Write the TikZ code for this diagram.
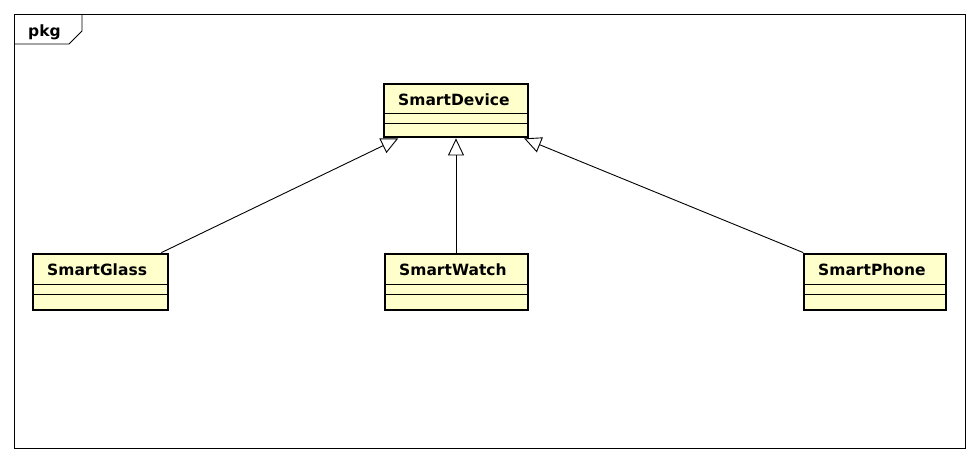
\documentclass[tikz,border=0pt]{standalone}
\usepackage{fontspec}
\setmainfont{DejaVu Sans}
\usetikzlibrary{arrows.meta}
\definecolor{clsfill}{HTML}{FFFFCC}
\tikzset{
  clsbox/.style={draw=black, fill=clsfill, line width=2.8pt, rectangle, inner sep=0pt},
  clsname/.style={anchor=base west, inner sep=0pt, font=\fontsize{15.5}{18}\selectfont\bfseries},
  compline/.style={line width=0.9pt},
  gen/.style={line width=0.9pt, -{Triangle[length=17pt,width=16pt,fill=white,line width=0.9pt]}},
  frameline/.style={line width=0.9pt}
}
\newcommand{\umlcls}[7]{%
  % #1 name, #2 x1, #3 y1, #4 x2, #5 y2, #6 text, #7 first line offset
  \node[clsbox, minimum width=#4-#2, minimum height=#5-#3] (#1) at ({(#2+#4)/2},{(#3+#5)/2}) {};
  \node[clsname] (#1name) at (#2+14,#3+21.5) {#6};
  \draw[compline] (#2,#3+#7) -- (#4,#3+#7);
  \draw[compline] (#2,#3+#7+10) -- (#4,#3+#7+10);
}
\begin{document}
\begin{tikzpicture}[x=1pt,y=-1pt]
\useasboundingbox (0,0) rectangle (980,461);
% frame
\draw[frameline] (14,14) rectangle (965,448);
\draw[frameline] (14,44) -- (69,44) -- (82,31) -- (82,14);
\node[anchor=base west, inner sep=0pt, font=\fontsize{15.5}{18}\selectfont\bfseries] (pkg) at (28,36) {pkg};
% classes
\umlcls{device}{384}{84}{528}{137}{SmartDevice}{29}
\umlcls{glass}{33}{254}{168}{310}{SmartGlass}{30}
\umlcls{watch}{385}{254}{528}{310}{SmartWatch}{30}
\umlcls{phone}{804}{254}{946}{310}{SmartPhone}{30}
% generalizations
\draw[gen] (glass) -- (device);
\draw[gen] (watch.north -| device.south) -- (device.south);
\draw[gen] (phone) -- (device);
\end{tikzpicture}
\end{document}
